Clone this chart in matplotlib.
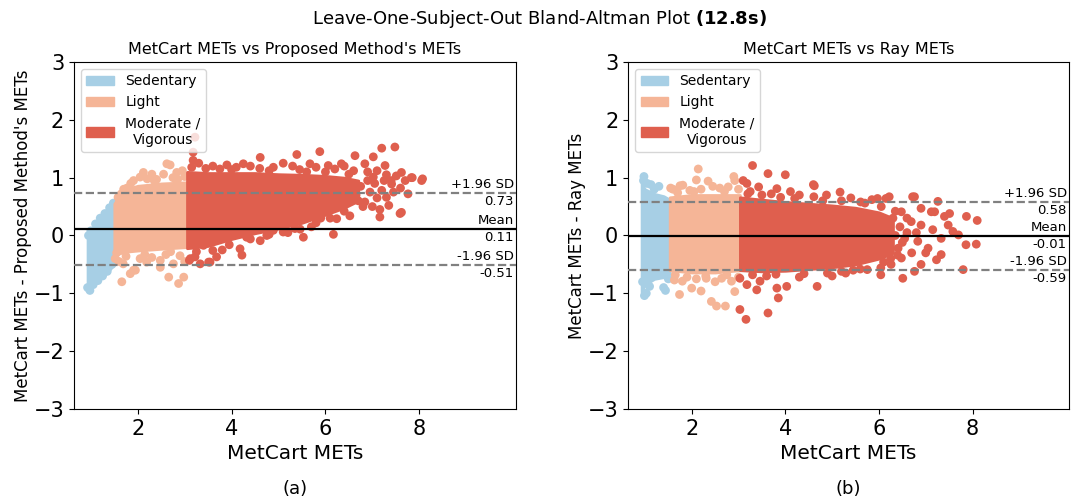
import matplotlib
matplotlib.use("Agg")
import matplotlib.pyplot as plt
from matplotlib.patches import Patch

# ── DATA ──────────────────────────────────────────────────────────────────────
CATEGORIES = ["Sedentary", "Light", "Moderate /\nVigorous"]
COLORS     = ["#a7cfe5", "#f5b597", "#df5f4e"]

# panel (a): MetCart vs Proposed method
A_MEAN, A_UPPER, A_LOWER = 0.11, 0.73, -0.51

# dense cores: x, upper edge, lower edge
A_SED_X   = [0.93, 1.0, 1.1, 1.3, 1.52]
A_SED_TOP = [0.02, 0.08, 0.2, 0.4, 0.58]
A_SED_BOT = [-0.92, -0.9, -0.82, -0.68, -0.48]
A_LIG_X   = [1.5, 1.6, 1.75, 2.0, 2.5, 3.04]
A_LIG_TOP = [0.55, 0.68, 0.8, 0.86, 0.9, 0.92]
A_LIG_BOT = [-0.33, -0.31, -0.28, -0.26, -0.23, -0.2]
A_MOD_X   = [3.05, 3.5, 4.0, 4.5, 5.0, 5.5, 6.0, 6.4, 6.7]
A_MOD_TOP = [1.1, 1.08, 1.08, 1.08, 1.06, 1.05, 1.03, 1.0, 0.95]
A_MOD_BOT = [-0.22, -0.18, -0.06, 0.04, 0.12, 0.22, 0.36, 0.48, 0.6]

# scattered points around the cores
A_SED_PTS = [(0.93, -0.9), (0.98, -0.95), (1.05, -0.85), (1.15, -0.78), (1.25, -0.7),
             (1.35, -0.62), (1.45, -0.5), (1.48, -0.42), (0.95, 0.0), (1.0, 0.08),
             (1.1, 0.2), (1.2, 0.3), (1.3, 0.38), (1.4, 0.48), (1.48, 0.56)]
A_LIG_PTS = [(2.12, 1.09), (2.30, 1.06), (2.62, 1.24), (2.69, 1.22), (2.83, 1.09),
             (2.95, 1.12), (2.40, 0.97), (1.91, 0.95), (1.77, 0.82), (2.05, 1.01),
             (2.55, 1.06), (1.65, 0.72), (2.2, 0.98), (2.75, 1.0), (3.0, 1.02),
             (1.85, 0.9), (1.52, -0.40), (1.69, -0.49), (1.91, -0.60), (1.84, -0.66),
             (1.66, -0.80), (2.19, -0.46), (2.48, -0.43), (2.66, -0.72), (2.87, -0.83),
             (2.98, -0.72), (2.76, -0.49), (2.48, -0.55), (1.95, -0.6), (2.3, -0.38),
             (2.9, -0.35), (1.6, -0.45), (2.05, -0.4), (2.6, -0.33), (3.0, -0.45),
             (1.58, 0.66), (1.7, 0.8), (2.35, 0.95), (2.85, 0.97), (1.75, -0.36),
             (2.15, -0.33), (2.7, -0.28), (1.55, -0.3)]
A_MOD_PTS = [(7.48, 1.53), (7.20, 1.51), (5.88, 1.45), (5.39, 1.40), (4.61, 1.35),
             (6.63, 1.38), (7.02, 1.36), (4.25, 1.24), (4.89, 1.18), (5.67, 1.24),
             (6.06, 1.21), (6.34, 1.24), (6.84, 1.24), (7.27, 1.21), (7.62, 1.09),
             (7.83, 1.00), (8.05, 0.95), (7.51, 1.03), (7.76, 0.72), (7.62, 0.40),
             (7.16, 0.32), (7.30, 0.66), (6.70, 0.60), (6.52, 0.34), (6.84, 0.58),
             (6.24, 0.29), (6.17, 0.02), (5.53, -0.03), (5.46, 0.11), (4.61, -0.09),
             (4.22, -0.34), (4.32, -0.03), (4.89, 0.09), (7.02, 1.01), (7.41, 0.89),
             (7.20, 0.78), (7.59, 0.38), (7.16, 0.45), (8.07, 0.98), (7.85, 1.0),
             (3.18, 1.44), (3.18, 1.30), (3.22, 1.70), (4.18, -0.23), (3.12, -0.40),
             (3.22, -0.37), (3.33, -0.49), (3.51, -0.46), (3.68, -0.37), (3.4, -0.17),
             (3.54, -0.46), (3.1, -0.43), (3.3, 1.25), (3.6, 1.2), (3.9, 1.22),
             (4.1, 1.18), (4.4, 1.2), (5.1, 1.25), (5.3, 1.2), (5.8, 1.18),
             (6.2, 1.15), (6.4, 1.2), (6.6, 1.12), (6.9, 1.1), (7.1, 1.12),
             (7.3, 1.05), (7.4, 0.95), (7.6, 0.82), (7.7, 0.95), (6.8, 0.5),
             (5.9, 0.3), (5.2, 0.05), (4.8, 0.02), (3.8, -0.25), (5.7, 0.15),
             (3.15, 1.18), (3.45, 1.16), (3.75, 1.15), (4.0, 1.14), (4.6, 1.16),
             (4.8, 1.12), (5.45, 1.14), (5.6, 1.1), (6.0, 1.1), (6.5, 1.06),
             (3.25, -0.28), (3.6, -0.26), (3.95, -0.16), (4.4, -0.06), (4.75, 0.0),
             (5.1, 0.06), (5.35, 0.12), (5.8, 0.22), (6.1, 0.3), (6.4, 0.42),
             (6.75, 0.85), (6.95, 0.75), (7.05, 0.9), (6.9, 0.95), (7.25, 0.95),
             (7.1, 0.65), (6.65, 0.7), (7.45, 0.75), (7.35, 0.52), (7.0, 0.5)]

# panel (b): MetCart vs Ray
B_MEAN, B_UPPER, B_LOWER = -0.01, 0.58, -0.59

B_SED_X   = [0.93, 1.0, 1.2, 1.4, 1.53]
B_SED_TOP = [0.9, 0.8, 0.72, 0.68, 0.62]
B_SED_BOT = [-0.98, -0.85, -0.75, -0.72, -0.66]
B_LIG_X   = [1.53, 2.0, 2.5, 3.03]
B_LIG_TOP = [0.66, 0.7, 0.7, 0.7]
B_LIG_BOT = [-0.6, -0.64, -0.64, -0.6]
B_MOD_X   = [3.03, 3.5, 4.0, 4.5, 5.0, 5.5, 6.0, 6.3]
B_MOD_TOP = [0.66, 0.62, 0.58, 0.55, 0.52, 0.48, 0.4, 0.3]
B_MOD_BOT = [-0.6, -0.62, -0.61, -0.58, -0.55, -0.5, -0.4, -0.3]

B_SED_PTS = [(0.98, 1.02), (0.97, 0.95), (1.13, 0.88), (1.3, 0.85), (1.05, 0.9),
             (1.2, 0.8), (0.99, -1.04), (1.44, -0.95), (1.4, -0.9), (1.03, -1.0),
             (1.1, -0.88), (0.95, -0.8), (1.5, -0.75)]
B_LIG_PTS = [(2.14, 1.15), (1.81, 0.87), (2.10, 0.96), (2.35, 0.94), (2.6, 0.82),
             (2.92, 0.95), (2.78, 0.84), (1.96, 0.78), (1.6, 0.8), (1.75, 0.86),
             (2.45, 0.85), (2.2, 0.8), (3.0, 0.8), (2.9, 1.02), (1.55, 0.82),
             (1.74, -1.02), (1.8, -0.79), (2.0, -0.91), (2.2, -0.96), (2.42, -1.14),
             (2.53, -1.22), (2.72, -1.22), (2.64, -0.74), (2.85, -0.79), (2.31, -0.74),
             (1.63, -0.77), (2.92, -0.97), (2.1, -0.75), (1.9, -0.72), (2.5, -0.8),
             (3.0, -0.72), (1.7, 0.74), (2.05, 0.76), (2.7, 0.76), (2.3, -0.7),
             (2.75, -0.68), (1.65, -0.68)]
B_MOD_PTS = [(3.30, 1.21), (3.63, 1.07), (4.0, 1.05), (3.18, 0.90), (3.43, 0.84),
             (3.82, 0.81), (4.11, 0.76), (3.25, 0.76), (4.6, 0.88), (3.1, 0.95),
             (3.03, -0.74), (3.18, -0.85), (3.39, -0.94), (3.82, -0.91), (4.03, -0.88),
             (3.03, -1.28), (3.16, -1.45), (3.63, -1.34), (3.85, -1.08), (3.46, -0.79),
             (4.68, -0.88), (6.51, -0.74), (7.8, -0.59), (7.87, 0.33), (8.1, 0.26),
             (7.86, -0.16), (8.08, -0.15), (6.72, 0.67), (6.15, 0.64), (4.62, 0.86),
             (5.17, 0.75), (4.88, 0.70), (4.61, 0.67), (6.22, 0.67), (6.76, 0.67),
             (7.26, 0.59), (7.51, 0.38), (7.23, -0.42), (6.76, -0.62), (6.04, -0.68),
             (5.29, -0.65), (4.9, -0.65), (6.9, 0.47), (7.19, 0.41), (7.48, 0.18),
             (7.58, 0.07), (7.33, -0.05), (7.05, -0.22), (6.83, -0.1), (7.15, 0.1),
             (6.69, 0.24), (6.55, -0.05), (6.41, -0.22), (6.9, 0.18), (7.4, 0.33),
             (7.33, -0.33), (7.7, 0.01), (6.48, -0.39), (6.26, -0.5), (6.9, -0.5),
             (7.12, 0.41), (6.48, 0.41), (5.97, 0.64), (5.61, 0.58), (6.04, -0.56),
             (5.75, -0.59), (3.7, 0.72), (4.3, 0.7), (5.4, 0.65), (3.6, -0.7),
             (4.3, -0.72), (5.0, -0.7), (6.6, 0.05), (6.3, 0.3), (7.0, -0.3),
             (3.2, 0.72), (3.5, 0.7), (3.9, 0.66), (4.2, 0.64), (4.8, 0.6),
             (5.2, 0.6), (5.7, 0.56), (6.05, 0.5), (6.35, 0.42), (3.3, -0.68),
             (3.8, -0.67), (4.4, -0.66), (5.2, -0.62), (5.6, -0.58), (6.1, -0.46),
             (6.4, -0.34), (6.45, 0.15), (6.5, -0.12), (6.6, 0.3), (6.7, -0.3),
             (6.35, 0.0), (6.8, 0.05), (5.85, 0.62), (5.45, -0.6), (6.25, -0.4)]

A_CORES = [(A_SED_X, A_SED_TOP, A_SED_BOT), (A_LIG_X, A_LIG_TOP, A_LIG_BOT),
           (A_MOD_X, A_MOD_TOP, A_MOD_BOT)]
B_CORES = [(B_SED_X, B_SED_TOP, B_SED_BOT), (B_LIG_X, B_LIG_TOP, B_LIG_BOT),
           (B_MOD_X, B_MOD_TOP, B_MOD_BOT)]
A_PTS = [A_SED_PTS, A_LIG_PTS, A_MOD_PTS]
B_PTS = [B_SED_PTS, B_LIG_PTS, B_MOD_PTS]
# ─────────────────────────────────────────────────────────────────────────────

fig = plt.figure(figsize=(10.78, 5.04), dpi=100)
ax_a = fig.add_axes([0.0686, 0.1885, 0.41, 0.6885])
ax_b = fig.add_axes([0.5826, 0.1885, 0.409, 0.6885])

panels = [
    (ax_a, A_CORES, A_PTS, A_MEAN, A_UPPER, A_LOWER,
     "MetCart METs vs Proposed Method's METs", "MetCart METs - Proposed Method's METs", "(a)"),
    (ax_b, B_CORES, B_PTS, B_MEAN, B_UPPER, B_LOWER,
     "MetCart METs vs Ray METs", "MetCart METs - Ray METs", "(b)"),
]

for ax, cores, pts, mean, upper, lower, title, ylabel, tag in panels:
    for (cx, ctop, cbot), p, col in zip(cores, pts, COLORS):
        ax.fill_between(cx, cbot, ctop, color=col, lw=2, edgecolor=col, zorder=2)
        ax.scatter([q[0] for q in p], [q[1] for q in p], s=40, color=col,
                   edgecolors="none", zorder=2)

    ax.axhline(mean, color="black", lw=1.6, zorder=3)
    ax.axhline(upper, color="gray", lw=1.6, ls="--", zorder=3)
    ax.axhline(lower, color="gray", lw=1.6, ls="--", zorder=3)

    tr = ax.get_yaxis_transform()
    for yv, top_txt in [(upper, "+1.96 SD"), (mean, "Mean"), (lower, "-1.96 SD")]:
        ax.annotate(top_txt, (0.995, yv), xycoords=tr, xytext=(0, 1.5),
                    textcoords="offset points", ha="right", va="bottom", fontsize=9.5)
        ax.annotate(f"{yv:.2f}", (0.995, yv), xycoords=tr, xytext=(0, -1.5),
                    textcoords="offset points", ha="right", va="top", fontsize=9.5)

    ax.set_xlim(0.64, 10.06)
    ax.set_ylim(-3, 3)
    ax.set_xticks([2, 4, 6, 8])
    ax.set_yticks([-3, -2, -1, 0, 1, 2, 3])
    ax.tick_params(labelsize=15)
    ax.set_xlabel("MetCart METs", fontsize=14.5)
    ax.set_ylabel(ylabel, fontsize=12, labelpad=1)
    ax.set_title(title, fontsize=11.5)

    handles = [Patch(color=c, label=l) for c, l in zip(COLORS, CATEGORIES)]
    leg = ax.legend(handles=handles, loc="upper left", fontsize=10)
    for t in leg.get_texts():
        t.set_multialignment("center")

    pos = ax.get_position()
    fig.text(pos.x0 + pos.width / 2, 0.03, tag, ha="center", va="center", fontsize=13)

fig.suptitle("Leave-One-Subject-Out Bland-Altman Plot $\\bf{(12.8s)}$",
             fontsize=13, y=0.985)

fig.savefig("out.png", dpi=100)
print("Saved: out.png")
